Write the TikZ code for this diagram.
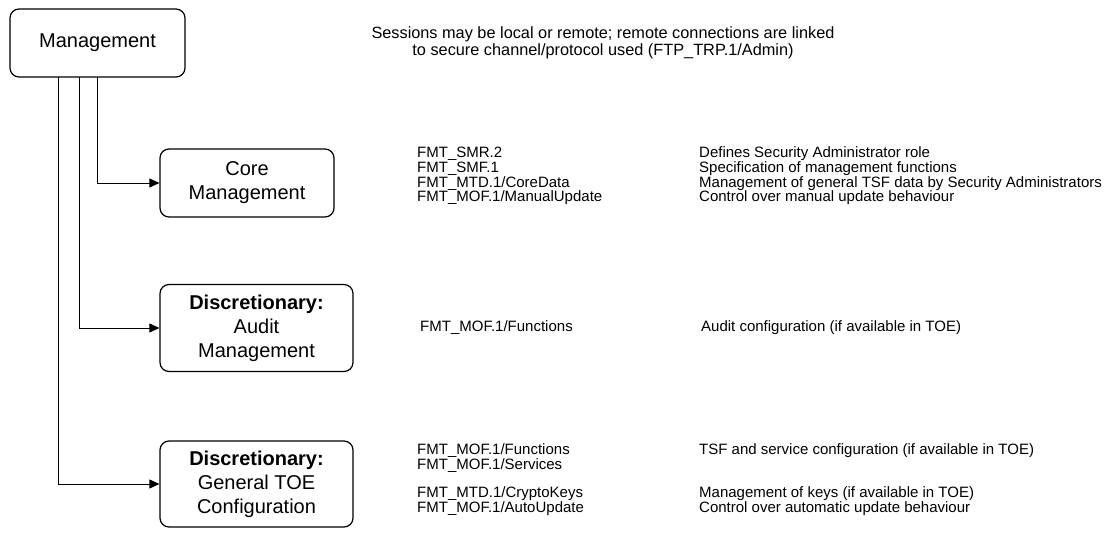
\documentclass[tikz,border=0pt]{standalone}
\usepackage{fontspec}
\setmainfont{Liberation Sans}
\usetikzlibrary{arrows.meta}
\begin{document}
\begin{tikzpicture}[x=1pt,y=-1pt,>={Triangle[length=10pt,width=9pt]},line cap=round,
				box/.style={draw,line width=1.2pt,rounded corners=9pt,align=center,inner sep=0pt,
					font=\fontsize{20}{24}\selectfont},
				txt/.style={anchor=west,align=left,inner sep=0pt,font=\fontsize{15}{14.7}\selectfont}]
				\useasboundingbox (0,0) rectangle (1120,535);
				% boxes
				\node[box,minimum width=175pt,minimum height=68pt] (mgmt) at (97.5,43) {Management};
				\node[box,minimum width=174pt,minimum height=68pt] (core) at (247,183) {Core\\Management};
				\node[box,minimum width=193pt,minimum height=87pt] (audit) at (256.5,328) {\textbf{Discretionary:}\\Audit\\Management};
				\node[box,minimum width=193pt,minimum height=86pt] (conf) at (256.5,484) {\textbf{Discretionary:}\\General TOE\\Configuration};
				% note
				\node[inner sep=0pt,align=center,font=\fontsize{16.3}{16.5}\selectfont] (note) at (603,43)
					{Sessions may be local or remote; remote connections are linked\\to secure channel/protocol used (FTP\_TRP.1/Admin)};
				% requirements and descriptions
				\node[txt] (coreR) at (417,176) {FMT\_SMR.2\\FMT\_SMF.1\\FMT\_MTD.1/CoreData\\FMT\_MOF.1/ManualUpdate};
				\node[txt] (coreD) at (699,176) {Defines Security Administrator role\\Specification of management functions\\Management of general TSF data by Security Administrators\\Control over manual update behaviour};
				\node[txt] (auditR) at (420,328) {FMT\_MOF.1/Functions};
				\node[txt] (auditD) at (701,328) {Audit configuration (if available in TOE)};
				\node[txt] (confR) at (417,458) {FMT\_MOF.1/Functions\\FMT\_MOF.1/Services};
				\node[txt] (confD) at (699,451) {TSF and service configuration (if available in TOE)};
				\node[txt] (confR2) at (417,501) {FMT\_MTD.1/CryptoKeys\\FMT\_MOF.1/AutoUpdate};
				\node[txt] (confD2) at (699,501) {Management of keys (if available in TOE)\\Control over automatic update behaviour};
				% connectors
				\draw[line width=0.9pt,->] (mgmt.south) |- (core.west);
				\draw[line width=0.9pt,->] ([xshift=-18.5pt]mgmt.south) |- (audit.west);
				\draw[line width=0.9pt,->] ([xshift=-39.5pt]mgmt.south) |- (conf.west);
			\end{tikzpicture}
\end{document}
